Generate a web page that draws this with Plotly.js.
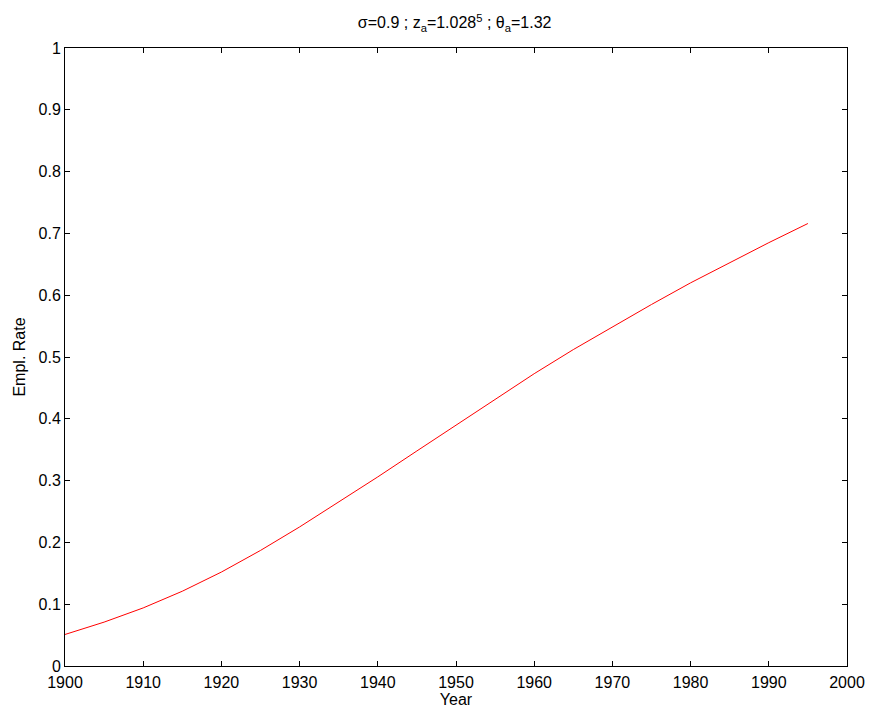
<!DOCTYPE html>
<html>
<head>
<meta charset="utf-8">
<script src="https://cdn.plot.ly/plotly-3.0.1.min.js"></script>
<style>html,body{margin:0;padding:0;background:#fff;}#plot{width:871px;height:713px;}</style>
</head>
<body>
<div id="plot"></div>
<script>
const years = [1900,1905,1910,1915,1920,1925,1930,1935,1940,1945,1950,1955,1960,1965,1970,1975,1980,1985,1990,1995];
const emplRate = [0.051,0.071,0.094,0.121,0.152,0.187,0.225,0.265,0.306,0.348,0.390,0.432,0.473,0.512,0.549,0.585,0.620,0.653,0.685,0.716];
const xTicks = [1900,1910,1920,1930,1940,1950,1960,1970,1980,1990,2000];
const yTicks = [0,0.1,0.2,0.3,0.4,0.5,0.6,0.7,0.8,0.9,1];
const yTickText = ['0','0.1','0.2','0.3','0.4','0.5','0.6','0.7','0.8','0.9','1'];

const font = {family: 'Liberation Sans, Arial, sans-serif', size: 16, color: '#000'};
const axisCommon = {
  showline: true, linecolor: '#000', linewidth: 1, mirror: 'ticks',
  ticks: 'inside', ticklen: 5, tickcolor: '#000', tickwidth: 1,
  showgrid: false, zeroline: false, tickfont: font
};
Plotly.newPlot('plot', [{
  x: years, y: emplRate, type: 'scatter', mode: 'lines',
  line: {color: '#ff0000', width: 1}
}], {
  width: 871, height: 713,
  margin: {l: 65, r: 24, t: 48, b: 47},
  paper_bgcolor: '#fff', plot_bgcolor: '#fff',
  showlegend: false,
  font: font,
  title: {text: 'σ=0.9 ; z<sub>a</sub>=1.028<sup>5</sup> ; θ<sub>a</sub>=1.32', x: 0.522, xanchor: 'center', y: 0.968, yanchor: 'middle', font: font},
  xaxis: Object.assign({}, axisCommon, {
    range: [1900, 2000], tickvals: xTicks, ticktext: xTicks.map(String),
    ticklabelstandoff: 2,
    title: {text: 'Year', font: font, standoff: 0}
  }),
  yaxis: Object.assign({}, axisCommon, {
    range: [0, 1], tickvals: yTicks, ticktext: yTickText,
    title: {text: 'Empl. Rate', font: font, standoff: 8}
  })
}, {staticPlot: true});
</script>
</body>
</html>
